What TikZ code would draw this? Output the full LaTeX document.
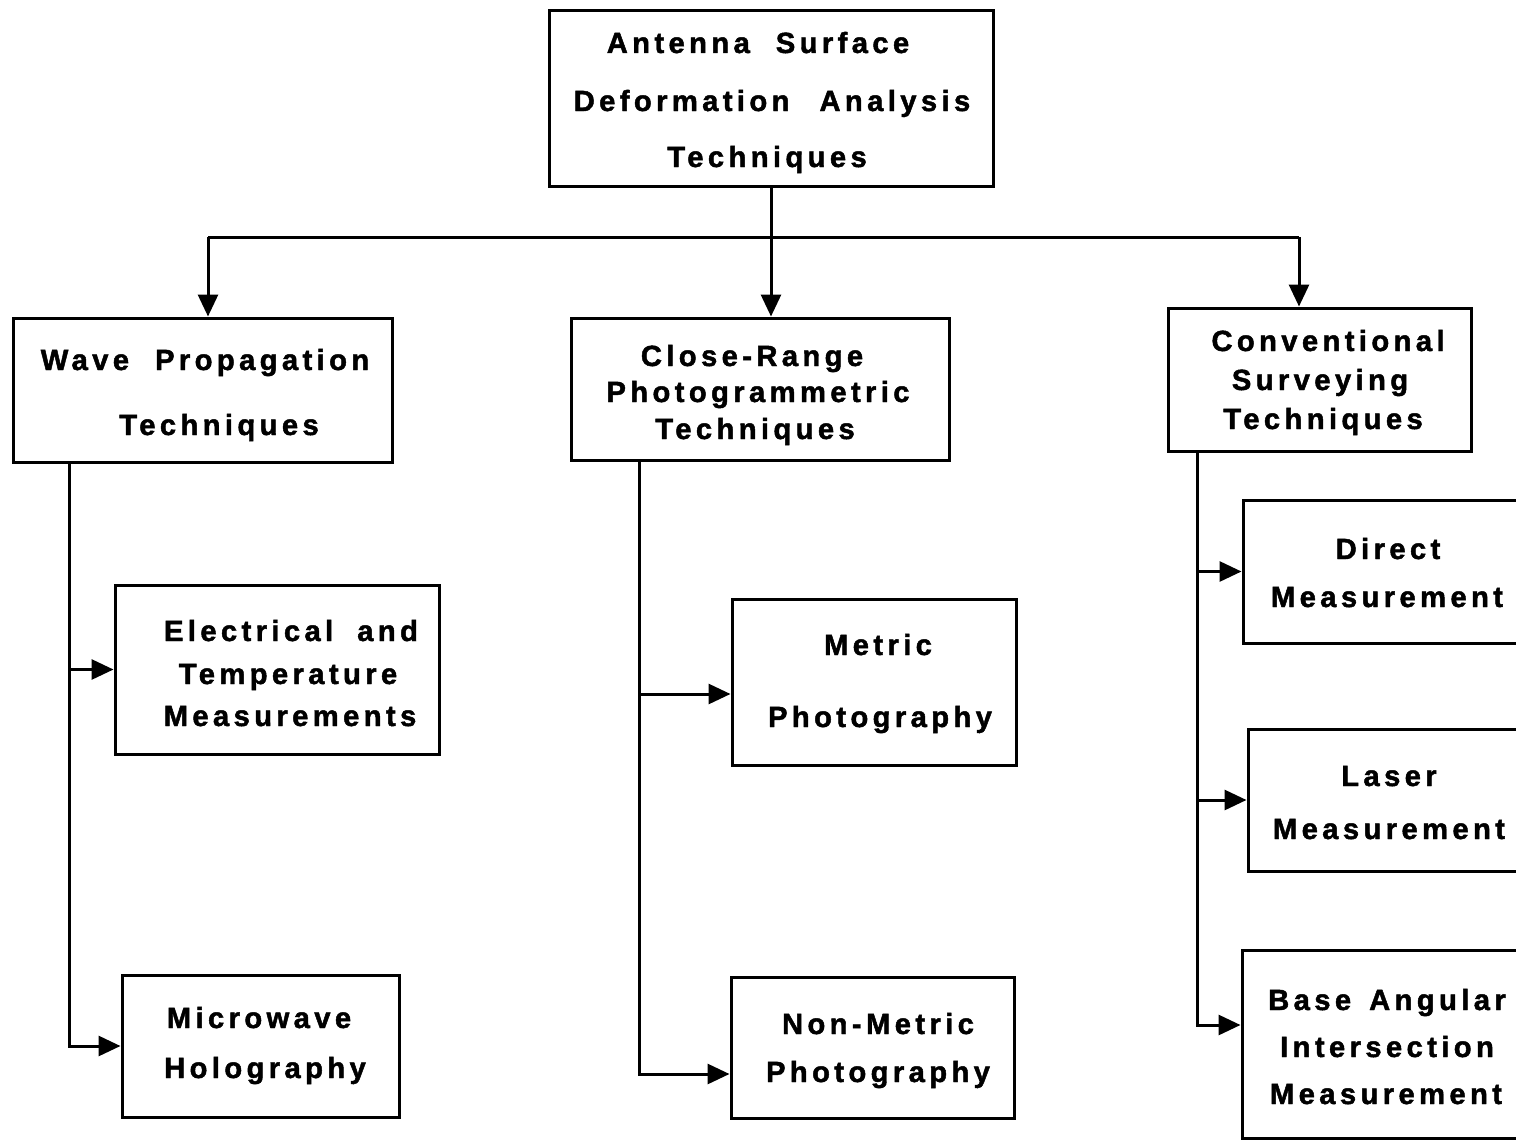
\documentclass[tikz,border=0pt]{standalone}
\usepackage{fontspec}
\newfontfamily\labfont{Liberation Sans}[UprightFont={* Bold},LetterSpace=15,FakeBold=1.6]
\usetikzlibrary{arrows.meta,fit}

\begin{document}
\begin{tikzpicture}[x=0.5pt,y=-0.5pt,
  box/.style={draw,line width=1.5pt,inner sep=0pt},
  link/.style={line width=1.5pt},
  arr/.style={link,-{Triangle[length=11pt,width=10pt]}},
  lab/.style={inner sep=0pt,anchor=base,font=\labfont\fontsize{14.6}{17}\selectfont}]
% page frame
\useasboundingbox (0,0) rectangle (1516,1140);
\fill[white] (0,0) rectangle (1516,1140);
\clip (0,0) rectangle (1516,1140);

% boxes
\node[box,fit={(549,10) (993,186)}] (top) {};
\node[box,fit={(13,318) (392,462)}] (wave) {};
\node[box,fit={(571,318) (949,460)}] (close) {};
\node[box,fit={(1168,308) (1471,451)}] (conv) {};
\node[box,fit={(115,585) (439,754)}] (elec) {};
\node[box,fit={(122,975) (399,1117)}] (micro) {};
\node[box,fit={(732,599) (1016,765)}] (metric) {};
\node[box,fit={(731,977) (1014,1118)}] (nonmetric) {};
\node[box,fit={(1243,500) (1530,643)}] (direct) {};
\node[box,fit={(1248,729) (1530,871)}] (laser) {};
\node[box,fit={(1242,950) (1530,1138)}] (base) {};

% labels
\node[lab] (topa) at (758,53) {Antenna\hspace{13pt}Surface};
\node[lab] (topb) at (772,111) {Deformation\hspace{15pt}Analysis};
\node[lab] (topc) at (767,167) {Techniques};

\node[lab] (wavea) at (205,370) {Wave\hspace{13pt}Propagation};
\node[lab] (waveb) at (219,435) {Techniques};

\node[lab] (closea) at (752,366) {Close-Range};
\node[lab] (closeb) at (758,402) {Photogrammetric};
\node[lab] (closec) at (755,439) {Techniques};

\node[lab] (conva) at (1328,351) {Conventional};
\node[lab] (convb) at (1320,390) {Surveying};
\node[lab] (convc) at (1323,429) {Techniques};

\node[lab] (eleca) at (291,641) {Electrical\hspace{12pt}and};
\node[lab] (elecb) at (288,684) {Temperature};
\node[lab] (elecc) at (290,726) {Measurements};

\node[lab] (microa) at (259,1028) {Microwave};
\node[lab] (microb) at (265,1078) {Holography};

\node[lab] (metrica) at (878,655) {Metric};
\node[lab] (metricb) at (880,727) {Photography};

\node[lab] (nonmetrica) at (878,1034) {Non-Metric};
\node[lab] (nonmetricb) at (878,1082) {Photography};

\node[lab] (directa) at (1388,559) {Direct};
\node[lab] (directb) at (1387,607) {Measurement};

\node[lab] (lasera) at (1389,786) {Laser};
\node[lab] (laserb) at (1389,839) {Measurement};

\node[lab] (basea) at (1387,1010) {Base\hspace{9pt}Angular};
\node[lab] (baseb) at (1387,1057) {Intersection};
\node[lab] (basec) at (1386,1104) {Measurement};

% routing points
\coordinate (busL) at (208,237);
\coordinate (busR) at (1299,237);
\coordinate (wx) at (69,0);
\coordinate (cx) at (639,0);
\coordinate (vx) at (1197,0);
\coordinate (metY) at (0,694);
\coordinate (nmY) at (0,1074);
\coordinate (baseY) at (0,1025);

% top level split
\draw[arr] (top.south) -- (top.south |- close.north);
\draw[link] (busL) -- (busR);
\draw[arr] (busL) -- (busL |- wave.north);
\draw[arr] (busR) -- (busR |- conv.north);

% wave propagation branch
\draw[arr] (wave.south -| wx) |- (micro.west);
\draw[arr] (wx |- elec.west) -- (elec.west);

% photogrammetric branch
\draw[arr] (close.south -| cx) |- (nonmetric.west |- nmY);
\draw[arr] (cx |- metY) -- (metric.west |- metY);

% surveying branch
\draw[arr] (conv.south -| vx) |- (base.west |- baseY);
\draw[arr] (vx |- direct.west) -- (direct.west);
\draw[arr] (vx |- laser.west) -- (laser.west);
\end{tikzpicture}
\end{document}
